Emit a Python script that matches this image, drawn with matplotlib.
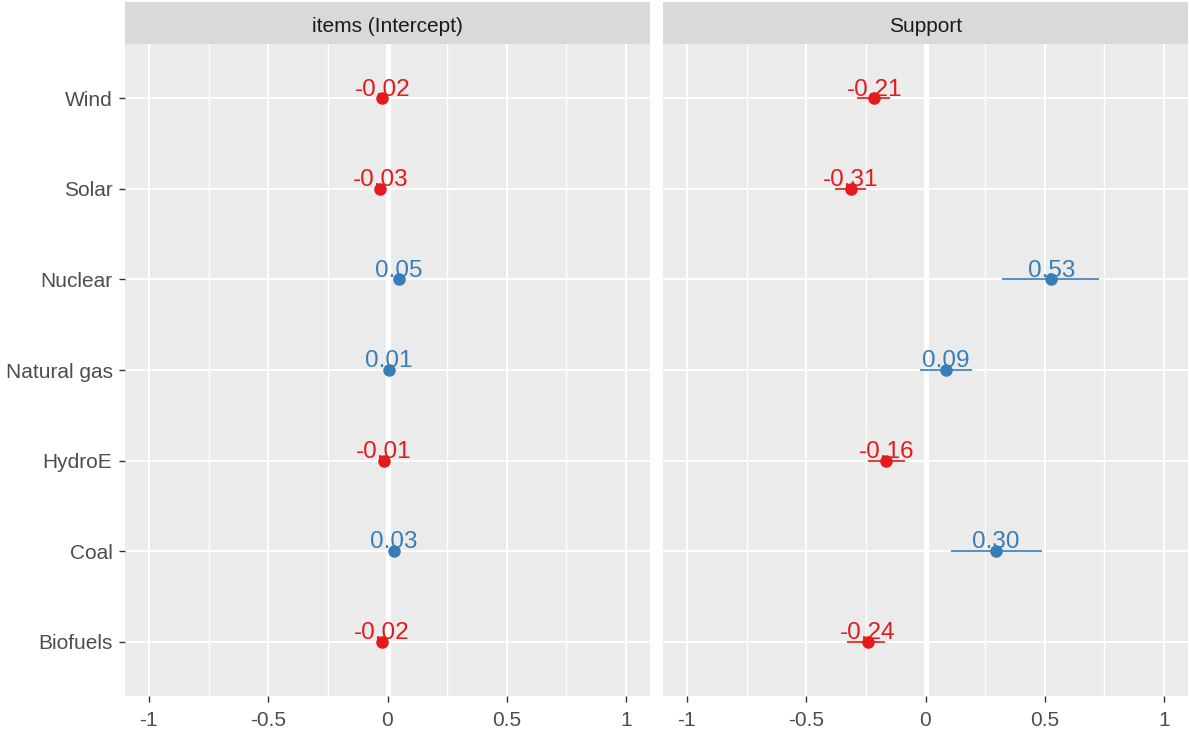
import matplotlib
matplotlib.use("Agg")
import matplotlib.pyplot as plt
import numpy as np

plt.rcParams["font.family"] = ["Liberation Sans", "DejaVu Sans"]

items = ["Wind", "Solar", "Nuclear", "Natural gas", "HydroE", "Coal", "Biofuels"]

# panel 1: items (Intercept)
icpt_est = [-0.022, -0.03, 0.048, 0.006, -0.014, 0.026, -0.024]
icpt_lo = [-0.032, -0.04, 0.038, -0.004, -0.024, 0.016, -0.034]
icpt_hi = [-0.012, -0.02, 0.058, 0.016, -0.004, 0.036, -0.014]

# panel 2: Support
sup_est = [-0.214, -0.314, 0.527, 0.086, -0.164, 0.296, -0.243]
sup_lo = [-0.285, -0.38, 0.32, -0.025, -0.243, 0.105, -0.33]
sup_hi = [-0.15, -0.25, 0.725, 0.193, -0.088, 0.49, -0.168]

panels = ["items (Intercept)", "Support"]
xticks = [-1, -0.5, 0, 0.5, 1]
xticklabels = ["-1", "-0.5", "0", "0.5", "1"]

RED = "#E41A1C"
BLUE = "#377EB8"

W, H = 1189, 733
fig = plt.figure(figsize=(W / 100, H / 100), dpi=100)
fig.patch.set_facecolor("white")

panel_x = [125, 663]
panel_w = 525
panel_top, panel_bot = 44, 696
strip_top = 2

data = [(icpt_est, icpt_lo, icpt_hi), (sup_est, sup_lo, sup_hi)]
ypos = np.arange(len(items))

for i, (title, (est, lo, hi)) in enumerate(zip(panels, data)):
    ax = fig.add_axes([panel_x[i] / W, (H - panel_bot) / H, panel_w / W, (panel_bot - panel_top) / H])
    ax.set_facecolor("#EBEBEB")
    for s in ax.spines.values():
        s.set_visible(False)
    ax.set_xlim(-1.1, 1.1)
    ax.set_ylim(len(items) - 0.4, -0.6)

    # grid
    for xm in [-0.75, -0.25, 0.25, 0.75]:
        ax.axvline(xm, color="white", lw=0.9, zorder=0)
    for xm in xticks:
        ax.axvline(xm, color="white", lw=1.4, zorder=0)
    for y in ypos:
        ax.axhline(y, color="white", lw=1.4, zorder=0)
    ax.axvline(0, color="white", lw=3.8, zorder=1)

    for y, e, l, h in zip(ypos, est, lo, hi):
        c = BLUE if e > 0 else RED
        ax.plot([l, h], [y, y], color=c, lw=1.2, zorder=3, solid_capstyle="butt")
        ax.plot(e, y, "o", color=c, ms=8, zorder=4)
        ax.annotate(f"{e:.2f}", (e, y), xytext=(0, 2), textcoords="offset points",
                    ha="center", va="baseline", fontsize=17.5, color=c, zorder=5)

    ax.set_xticks(xticks)
    ax.set_xticklabels(xticklabels)
    ax.tick_params(axis="x", length=4, width=1, color="#333333", labelsize=15,
                   labelcolor="#4D4D4D", pad=7)
    ax.set_yticks(ypos)
    if i == 0:
        ax.set_yticklabels(items)
        ax.tick_params(axis="y", length=4, width=1, color="#333333", labelsize=15,
                       labelcolor="#4D4D4D", pad=5)
    else:
        ax.tick_params(axis="y", left=False, labelleft=False)

    # facet strip
    sax = fig.add_axes([panel_x[i] / W, (H - panel_top) / H, panel_w / W, (panel_top - strip_top) / H])
    sax.set_facecolor("#D9D9D9")
    sax.set_xticks([])
    sax.set_yticks([])
    for s in sax.spines.values():
        s.set_visible(False)
    sax.text(0.5, 0.42, title, ha="center", va="center", fontsize=15, color="#1A1A1A",
             transform=sax.transAxes)

fig.savefig("out.png", dpi=100)
